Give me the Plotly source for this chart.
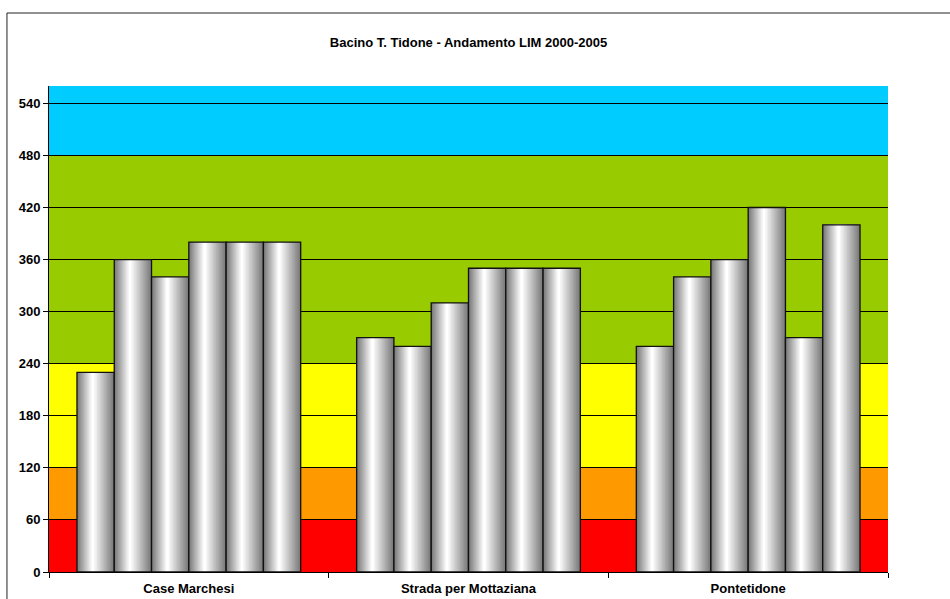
import plotly.graph_objects as go

# ---- data ----
stations = ["Case Marchesi", "Strada per Mottaziana", "Pontetidone"]
years = ["2000", "2001", "2002", "2003", "2004", "2005"]
lim_values = {
    "2000": [230, 270, 260],
    "2001": [360, 260, 340],
    "2002": [340, 310, 360],
    "2003": [380, 350, 420],
    "2004": [380, 350, 270],
    "2005": [380, 350, 400],
}
band_edges = [0, 60, 120, 240, 480, 560]
band_colors = ["#FF0000", "#FF9900", "#FFFF00", "#99CC00", "#00CCFF"]
y_ticks = [0, 60, 120, 180, 240, 300, 360, 420, 480, 540]
title_text = "Bacino T. Tidone - Andamento LIM 2000-2005"

# ---- styling ----
W, H = 950, 599
group_width = 0.8
bw = group_width / len(years)
K = 14          # gradient layers
hl = 0.42       # highlight position within bar
FONT = "Liberation Sans, Arial"

fig = go.Figure()

for i, yr in enumerate(years):
    base_off = -group_width / 2 + i * bw
    vals = lim_values[yr]
    # dark base bar
    fig.add_trace(go.Bar(
        x=stations, y=vals, offset=base_off, width=bw,
        marker=dict(color="#7a7a7a", line=dict(width=0)),
        showlegend=False, hoverinfo="skip"))
    # nested lighter layers for cylinder gradient
    for k in range(1, K + 1):
        a = 1 - k / (K + 1)
        left = hl - a * hl
        right = hl + a * (1 - hl)
        g = int(122 + (255 - 122) * (k / K))
        col = f"rgb({g},{g},{g})"
        fig.add_trace(go.Bar(
            x=stations, y=vals, offset=base_off + left * bw, width=(right - left) * bw,
            marker=dict(color=col, line=dict(width=0)),
            showlegend=False, hoverinfo="skip"))
    # outline
    fig.add_trace(go.Bar(
        x=stations, y=vals, offset=base_off, width=bw, name=yr,
        marker=dict(color="rgba(0,0,0,0)", line=dict(color="#111111", width=1.3)),
        showlegend=False))

shapes = []
for j, c in enumerate(band_colors):
    shapes.append(dict(type="rect", xref="paper", yref="y", x0=0, x1=1,
                       y0=band_edges[j], y1=band_edges[j + 1],
                       fillcolor=c, line=dict(width=0), layer="below"))
# outer chart border
shapes.append(dict(type="rect", xref="paper", yref="paper",
                   x0=-0.0501, x1=1.3, y0=-0.3, y1=1.1502,
                   line=dict(color="#222222", width=1), fillcolor="rgba(0,0,0,0)",
                   layer="above"))

fig.update_layout(
    width=W, height=H,
    margin=dict(l=49, r=62, t=86, b=27, autoexpand=False),
    paper_bgcolor="white", plot_bgcolor="white",
    barmode="overlay",
    shapes=shapes,
    title=dict(text=f"<b>{title_text}</b>", x=(49 + 888) / 2 / W, xanchor="center",
               y=1 - 42 / H, yanchor="middle",
               font=dict(family=FONT, size=13, color="black")),
    font=dict(family=FONT, size=13, color="black"),
    xaxis=dict(type="category", showgrid=False, showline=True, linecolor="black", linewidth=1,
               ticks="outside", tickson="boundaries", ticklen=5, tickcolor="black",
               tickfont=dict(family=FONT, size=13, color="black"), automargin=False,
               ticklabelstandoff=4, range=[-0.5, 2.5]),
    yaxis=dict(range=[0, 560], tickvals=y_ticks,
               ticktext=[f"<b>{v}</b>" for v in y_ticks], automargin=False,
               showgrid=True, gridcolor="black", gridwidth=1,
               showline=True, linecolor="black", linewidth=1,
               ticks="outside", ticklen=5, tickcolor="black", zeroline=False,
               tickfont=dict(family=FONT, size=13, color="black")),
)
fig.update_xaxes(ticktext=[f"<b>{s}</b>" for s in stations], tickvals=stations)

fig.write_html("out.html")
